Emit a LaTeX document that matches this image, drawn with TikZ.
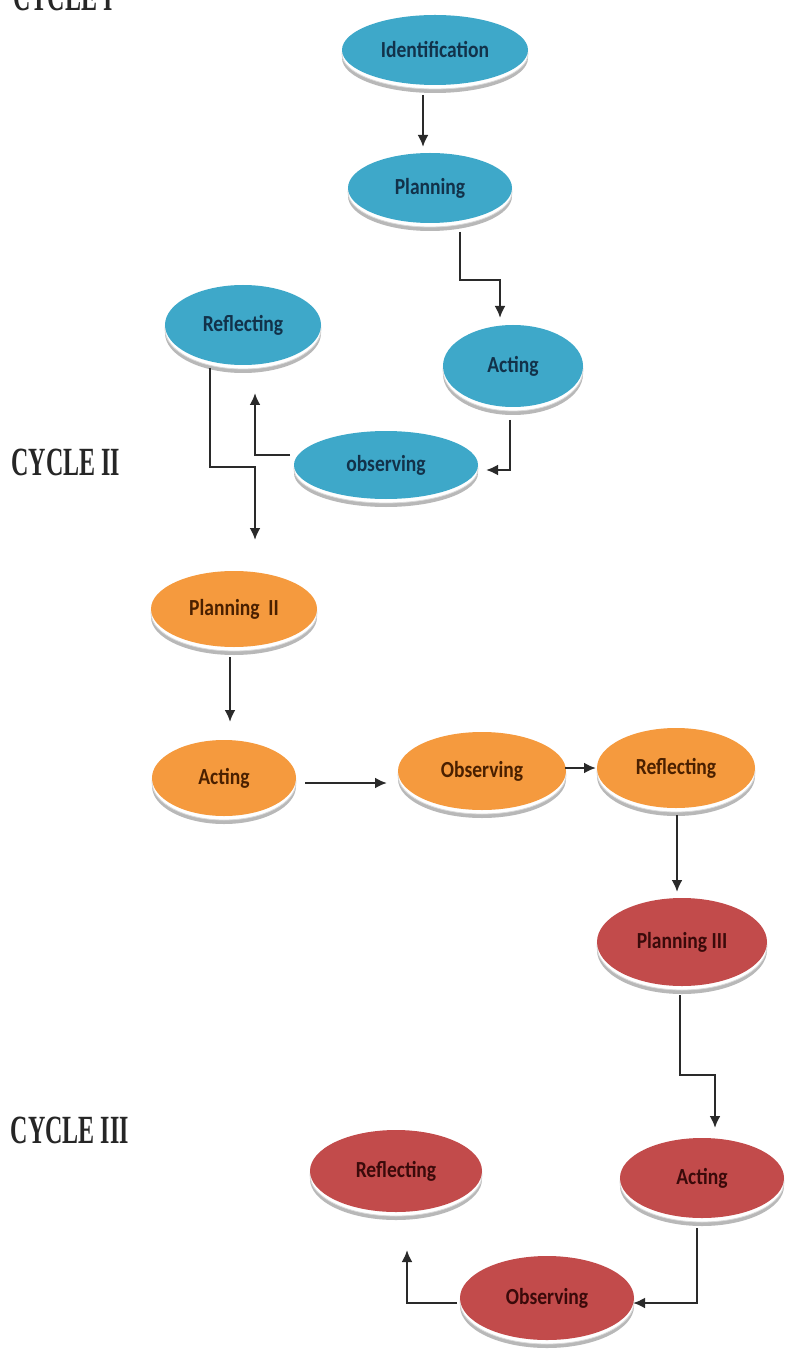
\documentclass[tikz,border=0pt]{standalone}
\usepackage{fontspec}
\setmainfont{Liberation Serif}
\newfontfamily\bubfont{Carlito}
\usetikzlibrary{shapes.geometric,calc,arrows.meta}
\definecolor{cblue}{HTML}{3EA8C9}
\definecolor{corange}{HTML}{F59A3E}
\definecolor{cred}{HTML}{C24B4B}
\definecolor{tblue}{HTML}{12324A}
\definecolor{torange}{HTML}{4A2000}
\definecolor{tred}{HTML}{3A0A0A}
\definecolor{shadowgray}{HTML}{B8B8B8}
\definecolor{linegray}{HTML}{2A2A2A}
\tikzset{
  bubble/.style={ellipse, inner sep=0pt, outer sep=0pt, font=\bubfont\bfseries\fontsize{11.5}{13}\selectfont},
  arr/.style={draw=linegray, line width=1.2pt, -{Latex[length=6pt,width=5.5pt]}},
  cyc/.style={font=\bfseries\fontsize{20}{22}\selectfont, text=black!85, inner sep=0pt}
}
\newcommand\bub[8]{%
  \fill[shadowgray] (#2,#3+8) ellipse [x radius=#4*0.5pt, y radius=#5*0.5pt];
  \filldraw[fill=white, draw=black!15, line width=0.4pt] (#2,#3+4) ellipse [x radius=#4*0.5pt, y radius=#5*0.5pt];
  \node[bubble, fill=#6, text=#7, minimum width=#4pt, minimum height=#5pt] (#1) at (#2,#3) {\scalebox{0.85}[1]{#8}};
}
\begin{document}
\begin{tikzpicture}[x=0.5pt,y=-0.5pt]
\useasboundingbox[fill=white] (0,0) rectangle (786,1363);

% labels
\node[cyc] (c1) at (63,-3) {\scalebox{0.6}[1]{CYCLE I}};
\node[cyc] (c2) at (66,462) {\scalebox{0.6}[1]{CYCLE II}};
\node[cyc] (c3) at (70,1130) {\scalebox{0.6}[1]{CYCLE III}};

% cycle I (blue)
\bub{id}{435}{50}{93}{35}{cblue}{tblue}{Identification}
\bub{plan1}{430}{188}{82}{35}{cblue}{tblue}{Planning}
\bub{refl1}{243}{325}{78}{40}{cblue}{tblue}{Reflecting}
\bub{act1}{513}{366}{70}{41}{cblue}{tblue}{Acting}
\bub{obs1}{386}{465}{92}{34}{cblue}{tblue}{observing}

% cycle II (orange)
\bub{plan2}{234}{609}{83}{38}{corange}{torange}{Planning\ \ II}
\bub{act2}{224}{778}{72}{38}{corange}{torange}{Acting}
\bub{obs2}{482}{771}{84}{39}{corange}{torange}{Observing}
\bub{refl2}{676}{768}{79}{40}{corange}{torange}{Reflecting}

% cycle III (red)
\bub{plan3}{682}{942}{85}{44}{cred}{tred}{Planning III}
\bub{act3}{702}{1178}{82}{40}{cred}{tred}{Acting}
\bub{refl3}{396}{1171}{86}{41}{cred}{tred}{Reflecting}
\bub{obs3}{547}{1298}{87}{42}{cred}{tred}{Observing}

% connector end points
\coordinate (s1) at ($(id.south)+(-12,10)$);
\coordinate (e1) at ($(plan1.north)+(-7,-6)$);
\coordinate (s2) at ($(plan1.south)+(30,9)$);
\coordinate (e2) at ($(act1.north)+(-13,-7)$);
\coordinate (s3) at ($(act1.south)+(-3,13)$);
\coordinate (e3) at ($(obs1.east)+(8,5)$);
\coordinate (s4) at ($(obs1.west)+(-4,-10)$);
\coordinate (e4) at ($(refl1.south)+(12,28)$);
\coordinate (s5) at ($(refl1.south)+(-33,3)$);
\coordinate (e5) at ($(plan2.north)+(21,-31)$);
\coordinate (s6) at ($(plan2.south)+(-4,10)$);
\coordinate (e6) at ($(act2.north)+(6,-18)$);
\coordinate (s7) at ($(act2.east)+(9,5)$);
\coordinate (e7) at ($(obs2.west)+(-11,12)$);
\coordinate (s8) at ($(obs2.east)+(-1,-3)$);
\coordinate (e8) at ($(refl2.west)+(-1,0)$);
\coordinate (s9) at ($(refl2.south)+(1,7)$);
\coordinate (e9) at ($(plan3.north)+(-5,-6)$);
\coordinate (s10) at ($(plan3.south)+(-2,9)$);
\coordinate (e10) at ($(act3.north)+(13,-10)$);
\coordinate (s11) at ($(act3.south)+(-5,10)$);
\coordinate (e11) at ($(obs3.east)+(-1,5)$);
\coordinate (s12) at ($(obs3.west)+(-3,5)$);
\coordinate (e12) at ($(refl3.south)+(11,38)$);

% connectors
\draw[arr] (s1) -- (s1 |- e1);
\draw[arr] (s2) -- ++(0,48) -| (e2);
\draw[arr] (s3) |- (e3);
\draw[arr] (s4) -| (e4);
\draw[arr] (s5) -- ++(0,99) -| (e5);
\draw[arr] (s6) -- (s6 |- e6);
\draw[arr] (s7) -- (s7 -| e7);
\draw[arr] (s8) -- (s8 -| e8);
\draw[arr] (s9) -- (s9 |- e9);
\draw[arr] (s10) -- ++(0,80) -| (e10);
\draw[arr] (s11) |- (e11);
\draw[arr] (s12) -| (e12);
\end{tikzpicture}
\end{document}
